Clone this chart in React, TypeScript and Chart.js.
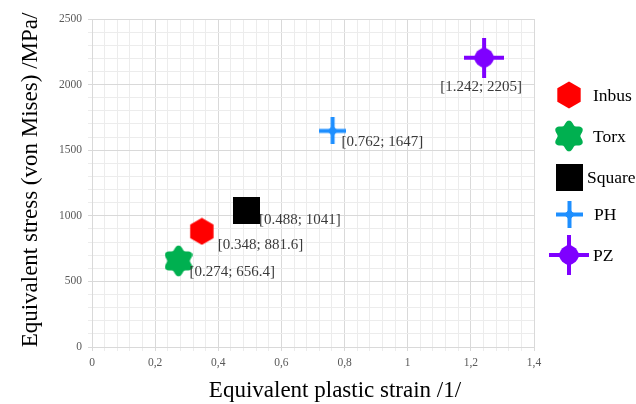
import React, { useEffect, useRef } from "react";
import { Chart, registerables } from "chart.js";

Chart.register(...registerables);

const seriesNames = ["Inbus", "Torx", "Square", "PH", "PZ"];
const strainValues = [0.348, 0.274, 0.488, 0.762, 1.242];
const stressValues = [881.6, 656.4, 1041, 1647, 2205];
const pointLabels = ["[0.348; 881.6]", "[0.274; 656.4]", "[0.488; 1041]", "[0.762; 1647]", "[1.242; 2205]"];
const seriesColors = ["#ff0000", "#00b050", "#000000", "#1e8fff", "#7f00ff"];
const xTitle = "Equivalent plastic strain /1/";
const yTitle = "Equivalent stress (von Mises) /MPa/";

function makeCanvas(w: number, h: number, draw: (c: CanvasRenderingContext2D) => void) {
  const cv = document.createElement("canvas");
  cv.width = w;
  cv.height = h;
  const c = cv.getContext("2d")!;
  draw(c);
  return cv;
}

function hexagon(color: string) {
  return makeCanvas(26, 28, (c) => {
    c.fillStyle = color;
    c.beginPath();
    for (let i = 0; i < 6; i++) {
      const a = -Math.PI / 2 + (i * Math.PI) / 3;
      const x = 13 + 13.5 * Math.cos(a);
      const y = 14 + 13.5 * Math.sin(a);
      if (i === 0) c.moveTo(x, y);
      else c.lineTo(x, y);
    }
    c.closePath();
    c.fill();
  });
}

function torx(color: string) {
  return makeCanvas(28, 32, (c) => {
    c.fillStyle = color;
    c.beginPath();
    const n = 240;
    for (let i = 0; i <= n; i++) {
      const t = (i / n) * Math.PI * 2;
      const r = 13.4 + 2.0 * Math.cos(6 * (t + Math.PI / 2));
      const x = 14 + r * Math.cos(t);
      const y = 16 + r * Math.sin(t);
      if (i === 0) c.moveTo(x, y);
      else c.lineTo(x, y);
    }
    c.closePath();
    c.fill();
  });
}

function square(color: string) {
  return makeCanvas(27, 27, (c) => {
    c.fillStyle = color;
    c.fillRect(0, 0, 27, 27);
  });
}

function star(color: string, size: number, arm: number, core: number, fillet: number) {
  return makeCanvas(size, size, (c) => {
    const m = size / 2;
    c.fillStyle = color;
    c.fillRect(0, m - arm / 2, size, arm);
    c.fillRect(m - arm / 2, 0, arm, size);
    c.beginPath();
    c.arc(m, m, core, 0, Math.PI * 2);
    c.fill();
    c.beginPath();
    const k = fillet;
    const q = core * 0.35;
    c.moveTo(m - k, m);
    c.quadraticCurveTo(m - q, m - q, m, m - k);
    c.quadraticCurveTo(m + q, m - q, m + k, m);
    c.quadraticCurveTo(m + q, m + q, m, m + k);
    c.quadraticCurveTo(m - q, m + q, m - k, m);
    c.fill();
  });
}

export default function App() {
  const ref = useRef<HTMLCanvasElement | null>(null);

  useEffect(() => {
    document.body.style.margin = "0";
    const styles = [
      hexagon(seriesColors[0]),
      torx(seriesColors[1]),
      square(seriesColors[2]),
      star(seriesColors[3], 27, 4, 3.5, 8),
      star(seriesColors[4], 40, 4, 9.5, 15),
    ];

    const serif = "'Liberation Serif', 'Times New Roman', serif";

    const labelPos: [number, number, CanvasTextAlign][] = [
      [16, 14, "left"],
      [11, 11, "left"],
      [13, 10, "left"],
      [9, 11, "left"],
      [-3, 29, "center"],
    ];

    const decorPlugin = {
      id: "decor",
      afterDatasetsDraw(chart: any) {
        const ctx = chart.ctx as CanvasRenderingContext2D;
        ctx.save();
        ctx.font = `15px ${serif}`;
        ctx.fillStyle = "#3a3a3a";
        ctx.textBaseline = "middle";
        chart.data.datasets.forEach((ds: any, i: number) => {
          const meta = chart.getDatasetMeta(i);
          const pt = meta.data[0];
          const [dx, dy, al] = labelPos[i];
          ctx.textAlign = al;
          ctx.fillText(pointLabels[i], pt.x + dx, pt.y + dy);
        });
        ctx.font = `17.5px ${serif}`;
        ctx.fillStyle = "#000000";
        ctx.textAlign = "left";
        const legendX = 569;
        const textX = [593, 593, 587, 594, 593];
        const legendY = [95, 136, 177, 214, 255];
        seriesNames.forEach((name, i) => {
          const img = styles[i];
          ctx.drawImage(img, Math.round(legendX - img.width / 2), Math.round(legendY[i] - img.height / 2));
          ctx.fillText(name, textX[i], legendY[i] + 1);
        });
        ctx.font = `23px ${serif}`;
        ctx.fillStyle = "#000000";
        ctx.textAlign = "center";
        ctx.fillText(xTitle, 335, 391);
        ctx.translate(31, 180);
        ctx.rotate(-Math.PI / 2);
        ctx.fillText(yTitle, 0, 0);
        ctx.restore();
      },
    };

    const isMult = (v: number, step: number) => Math.abs(v / step - Math.round(v / step)) < 1e-6;

    const chart = new Chart(ref.current!, {
      type: "scatter",
      data: {
        datasets: seriesNames.map((name, i) => ({
          label: name,
          data: [{ x: strainValues[i], y: stressValues[i] }],
          pointStyle: styles[i] as any,
          backgroundColor: seriesColors[i],
          borderColor: seriesColors[i],
        })),
      },
      options: {
        animation: false,
        responsive: false,
        layout: { padding: { left: 0, top: 19, right: 102, bottom: 0 } },
        plugins: { legend: { display: false }, tooltip: { enabled: false } },
        scales: {
          x: {
            type: "linear",
            min: 0,
            max: 1.4,
            afterFit: (s: any) => {
              s.height = 57;
            },
            ticks: {
              stepSize: 0.04,
              autoSkip: false,
              maxRotation: 0,
              padding: 5,
              color: "#595959",
              font: { family: serif, size: 11.5 },
              callback: (v: any) => {
                const n = Number(v);
                if (!isMult(n, 0.2)) return "";
                return String(Math.round(n * 10) / 10).replace(".", ",");
              },
            },
            grid: {
              tickLength: 4,
              color: (c: any) => (c.tick && isMult(c.tick.value, 0.2) ? "#d9d9d9" : "#ececec"),
            },
            border: { color: "#d9d9d9" },
          },
          y: {
            type: "linear",
            min: 0,
            max: 2500,
            afterFit: (s: any) => {
              s.width = 92;
            },
            ticks: {
              stepSize: 100,
              autoSkip: false,
              padding: 6,
              color: "#595959",
              font: { family: serif, size: 11.5 },
              callback: (v: any) => {
                const n = Number(v);
                if (!isMult(n, 500)) return "";
                return String(Math.round(n));
              },
            },
            grid: {
              tickLength: 4,
              color: (c: any) => (c.tick && isMult(c.tick.value, 500) ? "#d9d9d9" : "#ececec"),
            },
            border: { color: "#d9d9d9" },
          },
        },
      },
      plugins: [decorPlugin],
    });
    return () => chart.destroy();
  }, []);

  return (
    <div style={{ width: 636, height: 404, background: "#ffffff" }}>
      <canvas ref={ref} width={636} height={404} style={{ display: "block" }} />
    </div>
  );
}
